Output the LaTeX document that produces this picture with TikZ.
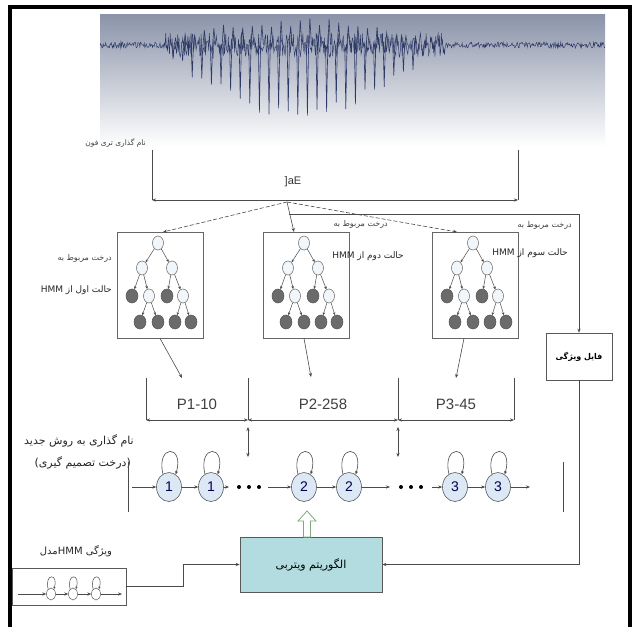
\documentclass[tikz,border=0pt]{standalone}
\usepackage{fontspec}
\setmainfont{Liberation Sans}
\newfontfamily\fa[Script=Arabic]{DejaVu Sans}
\TeXXeTstate=1
\usetikzlibrary{shapes.geometric,arrows.meta,calc}
\definecolor{wavetop}{HTML}{8A93A9}
\definecolor{wavemid}{HTML}{C2C7D4}
\definecolor{wavenavy}{HTML}{2E3A66}
\definecolor{nodeblue}{HTML}{DCE8F5}
\definecolor{darknode}{HTML}{6B6B6B}
\definecolor{linegray}{HTML}{4A4A4A}
\definecolor{vitfill}{HTML}{B2DCE0}
\definecolor{arrowgreen}{HTML}{7FA97F}
\tikzset{
  ln/.style={draw=linegray, line width=0.6pt},
  arr/.style={ln, -{Stealth[length=4pt,width=3.2pt]}},
  darr/.style={ln, {Stealth[length=4pt,width=3.2pt]}-{Stealth[length=4pt,width=3.2pt]}},
  dash arr/.style={arr, dash pattern=on 4pt off 2pt},
  tbox/.style={rectangle, draw=gray!80!black, line width=0.7pt, minimum width=86pt, minimum height=106pt, inner sep=0pt},
  wn/.style={ellipse, draw=gray!80!black, fill=nodeblue!40, line width=0.5pt, minimum width=11pt, minimum height=14pt, inner sep=0pt},
  dn/.style={ellipse, draw=darknode!80!black, fill=darknode, line width=0.5pt, minimum width=12pt, minimum height=14pt, inner sep=0pt},
  tarr/.style={draw=linegray, line width=0.5pt, -{Stealth[length=3pt,width=2.6pt]}},
  lbl/.style={font=\fa\fontsize{9}{10}\selectfont, text=black!85, inner sep=0pt},
  lbls/.style={font=\fa\fontsize{8}{9}\selectfont, text=black!75, inner sep=0pt},
  pl/.style={font=\fontsize{15}{16}\selectfont, text=black!75, inner sep=0pt},
  st/.style={ellipse, draw=gray!70!black, fill=nodeblue, line width=0.6pt, minimum width=25pt, minimum height=29pt, inner sep=0pt, font=\fontsize{14}{15}\selectfont, text=black!70!blue},
  dotn/.style={circle, fill=black, minimum size=4pt, inner sep=0pt},
  sst/.style={ellipse, draw=gray!70!black, fill=white, line width=0.5pt, minimum width=9pt, minimum height=12pt, inner sep=0pt},
  box/.style={rectangle, draw=gray!70!black, line width=0.7pt, inner sep=0pt}
}
\newcommand\mytree[2]{%
  \node[tbox] (#1box) at (#2,285) {};
  \node[wn] (#1r) at (#2-2,243) {};
  \node[wn] (#1a) at (#2-18,268) {};
  \node[wn] (#1b) at (#2+12,268) {};
  \node[dn] (#1c) at (#2-28,296) {};
  \node[wn] (#1d) at (#2-11,296) {};
  \node[dn] (#1e) at (#2+7,296) {};
  \node[wn] (#1f) at (#2+23,296) {};
  \node[dn] (#1g) at (#2-20,322) {};
  \node[dn] (#1h) at (#2-2,322) {};
  \node[dn] (#1i) at (#2+15,322) {};
  \node[dn] (#1j) at (#2+31,322) {};
  \foreach \u/\v in {r/a,r/b,a/c,a/d,b/e,b/f,d/g,d/h,f/i,f/j}{\draw[tarr] (#1\u) -- (#1\v);}
}
\newcommand\selfloop[1]{\draw[ln,-{Stealth[length=3.5pt,width=3pt]}] (#1.115) .. controls +(-7,-30) and +(9,-30) .. (#1.62);}
\newcommand\tinyloop[1]{\draw[ln,line width=0.5pt,-{Stealth[length=2.5pt,width=2.2pt]}] (#1.120) .. controls +(-4,-16) and +(5,-16) .. (#1.60);}
\begin{document}
\begin{tikzpicture}[x=1pt,y=-1pt]
\useasboundingbox (0,0) rectangle (641,627);
\fill[white] (0,0) rectangle (641,627);
% waveform
\shade[top color=wavetop, middle color=wavemid, bottom color=white] (100,14) rectangle (605,146);
\begin{scope}
\clip (100,14) rectangle (605,146);
\pgfmathsetseed{7}
\draw[wavenavy, line width=0.45pt] plot[domain=100:605, samples=800] (\x,{45+rand*(3+9*(\x>165)*(\x<445))});
\foreach \i in {0,...,26}{
  \pgfmathsetmacro\xx{172+\i*9.6}
  \pgfmathsetmacro\dn{16+52*sin(\i*180/26)+7*rand}
  \pgfmathsetmacro\up{8+15*sin(\i*180/26)+4*rand}
  \draw[wavenavy, line width=0.6pt] (\xx,45) -- (\xx+1,45+\dn) -- (\xx+2.2,45) -- (\xx+3.5,45-\up) -- (\xx+5,45);
}
\end{scope}
% triphone bracket
\coordinate (tbL) at (152,150); \coordinate (tbR) at (518,150);
\coordinate (tbLb) at (152,200); \coordinate (tbRb) at (518,200);
\draw[ln] (tbL) -- (tbLb); \draw[ln] (tbR) -- (tbRb);
\draw[darr] (tbLb) -- (tbRb);
\node[lbls, anchor=east, font=\fa\fontsize{7.5}{9}\selectfont] (trilab) at (146,143) {\beginR نام گذاری تری فون\endR};
\node[font=\fontsize{11}{12}\selectfont, text=black!80] (phon) at (293,182) {]aE};
\coordinate (J) at (287,202);
\coordinate (J2) at (289,214);
% trees
\mytree{ta}{160}
\mytree{tb}{306}
\mytree{tc}{475}
\coordinate (tain) at (163,232);
\coordinate (tbin) at (294,232);
\coordinate (tcin) at (457,232);
\draw[dash arr] (J) -- (tain);
\draw[arr] (J) -- (tbin);
\draw[dash arr] (J) -- (tcin);
% tree labels
\node[lbls, anchor=east] (la1) at (112,258) {\beginR درخت مربوط به\endR};
\node[lbl, anchor=east] (la2) at (112,290) {\beginR حالت اول از \beginL HMM\endL\endR};
\node[lbls, anchor=east] (lb1) at (388,224) {\beginR درخت مربوط به\endR};
\node[lbl, anchor=east] (lb2) at (404,256) {\beginR حالت دوم از \beginL HMM\endL\endR};
\node[lbls, anchor=east] (lc1) at (572,225) {\beginR درخت مربوط به\endR};
\node[lbl, anchor=east] (lc2) at (568,253) {\beginR حالت سوم از \beginL HMM\endL\endR};
% feature file
\node[box, fill=white, minimum width=66pt, minimum height=47pt, font=\fa\bfseries\fontsize{8}{9}\selectfont] (feat) at (579,356.5) {\beginR فایل ویژگی\endR};
\draw[arr] (J2) -| (feat.north);
% P brackets
\coordinate (pa) at (182,378); \coordinate (pb) at (311,377); \coordinate (pc) at (456,378);
\draw[arr] (tabox.south) -- (pa);
\draw[arr] ($(tbbox.south)+(-2,0)$) -- (pb);
\draw[arr] ($(tcbox.south)+(-11,0)$) -- (pc);
\coordinate (q1) at (146,378); \coordinate (q2) at (248,378); \coordinate (q3) at (398,378); \coordinate (q4) at (514,378);
\coordinate (r1) at (146,420); \coordinate (r2) at (248,420); \coordinate (r3) at (398,420); \coordinate (r4) at (514,420);
\draw[ln] (q1) -- (r1); \draw[ln] (q2) -- (r2); \draw[ln] (q3) -- (r3); \draw[ln] (q4) -- (r4);
\draw[darr] (r1) -- (r2); \draw[darr] (r2) -- (r3); \draw[darr] (r3) -- (r4);
\node[pl] (p1) at (197,404) {P1-10};
\node[pl] (p2) at (323,404) {P2-258};
\node[pl] (p3) at (456,404) {P3-45};
\coordinate (v1a) at (248,427); \coordinate (v1b) at (248,457);
\coordinate (v2a) at (398,427); \coordinate (v2b) at (398,457);
\draw[darr] (v1a) -- (v1b); \draw[darr] (v2a) -- (v2b);
% new labeling text
\node[lbl, anchor=east, font=\fa\fontsize{11}{12}\selectfont] (nl1) at (134,441) {\beginR نام گذاری به روش جدید\endR};
\node[lbl, anchor=east, font=\fa\fontsize{11}{12}\selectfont] (nl2) at (131,463) {\beginR (درخت تصمیم گیری)\endR};
\coordinate (lv1) at (128,462); \coordinate (lv2) at (128,512);
\coordinate (rv1) at (563,462); \coordinate (rv2) at (563,512);
\draw[ln] (lv1) -- (lv2); \draw[ln] (rv1) -- (rv2);
% state chain
\node[st] (c1) at (169,487) {1};
\node[st] (c2) at (211,487) {1};
\node[st] (c3) at (304,487) {2};
\node[st] (c4) at (349,487) {2};
\node[st] (c5) at (455,487) {3};
\node[st] (c6) at (498,487) {3};
\foreach \c in {c1,c2,c3,c4,c5,c6}{\selfloop{\c}}
\coordinate (s0) at (132,487);
\coordinate (e1) at (229,487); \coordinate (f1) at (268,487);
\coordinate (e2) at (390,487); \coordinate (f2) at (432,487);
\coordinate (s1) at (530,487);
\node[dotn] (d1) at (239,487) {}; \node[dotn] (d2) at (249,487) {}; \node[dotn] (d3) at (259,487) {};
\node[dotn] (d4) at (401,487) {}; \node[dotn] (d5) at (411,487) {}; \node[dotn] (d6) at (421,487) {};
\draw[arr] (s0) -- (c1); \draw[arr] (c1) -- (c2); \draw[arr] (c2) -- (e1); \draw[arr] (f1) -- (c3);
\draw[arr] (c3) -- (c4); \draw[arr] (c4) -- (e2); \draw[arr] (f2) -- (c5);
\draw[arr] (c5) -- (c6); \draw[arr] (c6) -- (s1);
% viterbi
\node[box, fill=vitfill, minimum width=142pt, minimum height=55pt, font=\fa\fontsize{11}{12}\selectfont] (vit) at (311,564.5) {\beginR الگوریتم ویتربی\endR};
\draw[arrowgreen, fill=white, line width=0.8pt] (307,511) -- (316,521) -- (310.5,521) -- (310.5,537) -- (303.5,537) -- (303.5,521) -- (298,521) -- cycle;
\draw[arr] (feat.south) |- (vit.east);
% HMM feature model
\node[box, fill=white, minimum width=114pt, minimum height=37pt] (hmm) at (69,586.5) {};
\node[lbl, font=\fa\fontsize{10}{11}\selectfont] (hmmlab) at (76,551) {\beginR ویژگی \beginL HMM\endL مدل\endR};
\node[sst] (h1) at (51,594) {};
\node[sst] (h2) at (73,594) {};
\node[sst] (h3) at (96,594) {};
\coordinate (hs) at (18,594); \coordinate (he) at (122,594);
\draw[arr] (hs) -- (h1); \draw[arr] (h1) -- (h2); \draw[arr] (h2) -- (h3); \draw[arr] (h3) -- (he);
\foreach \h in {h1,h2,h3}{\tinyloop{\h}}
\draw[arr] (hmm.east) -- ++(57,0) |- (vit.west);
% frame
\fill[white] (0,0) rectangle (8,627);
\draw[line width=4pt] (10,627) -- (10,7) -- (630,7) -- (630,627);
\end{tikzpicture}
\end{document}
